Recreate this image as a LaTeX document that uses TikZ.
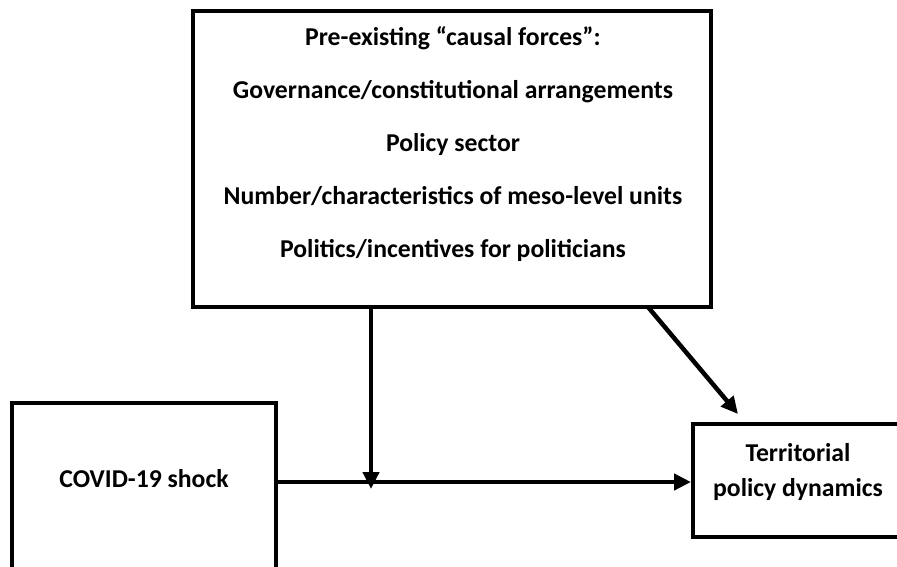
\documentclass[tikz,border=0pt]{standalone}
\usepackage{fontspec}
\setmainfont{Carlito}
\usetikzlibrary{arrows.meta}
\tikzset{
  box/.style={draw=black, line width=4pt, rectangle, inner sep=0pt},
  lbl/.style={font=\bfseries\fontsize{25.7}{30}\selectfont, align=center, inner sep=0pt},
  arr/.style={line width=4.5pt, -{Triangle[length=17pt,width=16pt]}, shorten >=0pt}
}
\begin{document}
\begin{tikzpicture}[x=1pt,y=-1pt]
\useasboundingbox (0,0) rectangle (897,567);
\clip (0,0) rectangle (897,567);
\fill[white] (0,0) rectangle (897,567);
% boxes
\node[box, minimum width=518pt, minimum height=296pt] (forces) at (452,159) {};
\node[lbl, font=\bfseries\fontsize{25.7}{53}\selectfont] (forcestext) at (453,144) {Pre-existing ``causal forces'':\\Governance/constitutional arrangements\\Policy sector\\Number/characteristics of meso-level units\\Politics/incentives for politicians};
\node[box, minimum width=264pt, minimum height=190pt] (covid) at (144,498) {};
\node[lbl] (covidtext) at (144,479) {COVID-19 shock};
\node[box, minimum width=212pt, minimum height=113pt] (terr) at (799,480.5) {};
\node[lbl, font=\bfseries\fontsize{25.7}{35}\selectfont] (terrtext) at (798,472) {Territorial\\policy dynamics};
% connectors
\coordinate (mid) at (371,482);
\coordinate (tip) at (738,414);
\draw[line width=4.5pt] (covid.east |- mid) -- (mid);
\draw[arr] (mid) -- (terr.west |- mid);
\draw[arr] (forces.south -| mid) -- ([yshift=-7pt]mid);
\draw[arr] (648,307) coordinate (dstart) -- (tip);
\end{tikzpicture}
\end{document}
